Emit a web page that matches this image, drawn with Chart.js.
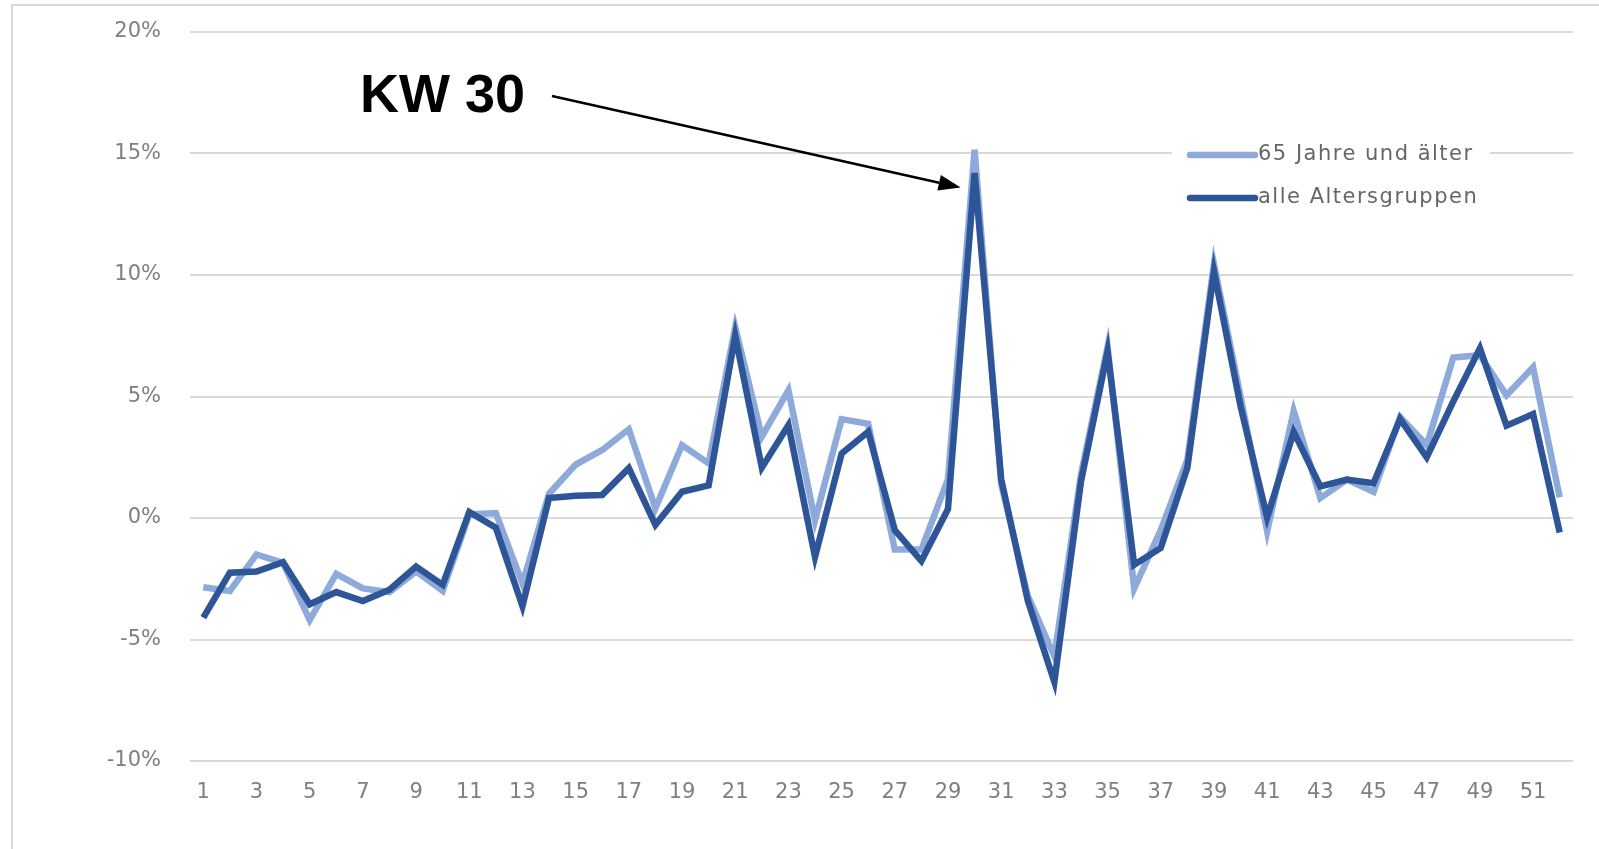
<!DOCTYPE html>
<html>
<head>
<meta charset="utf-8">
<script src="https://cdn.jsdelivr.net/npm/chart.js@4"></script>
<style>
  body { margin: 0; background: #fff; }
  .frame { position: absolute; left: 11px; top: 4px; width: 1620px; height: 900px; border: 2px solid #d9d9d9; }
  canvas { position: absolute; left: 0; top: 0; }
</style>
</head>
<body>
<div class="frame"></div>
<canvas id="myChart" width="1599" height="849"></canvas>
<script>
// Kalenderwochen 1..52
var weeks = [];
for (var w = 1; w <= 52; w++) weeks.push(w);

// Veraenderung in %
var seniors = [
  -2.85, -3.0, -1.5, -1.85, -4.2, -2.3, -2.9, -3.05, -2.2, -3.0,
  0.15, 0.2, -2.7, 1.0, 2.2, 2.8, 3.65, 0.4, 3.0, 2.25,
  7.85, 3.35, 5.25, -0.1, 4.07, 3.88, -1.3, -1.3, 1.6, 15.15,
  1.4, -3.2, -5.7, 1.8, 7.05, -2.9, -0.5, 2.4, 10.45, 5.0,
  -0.55, 4.4, 0.82, 1.58, 1.08, 4.15, 3.0, 6.6, 6.7, 5.05,
  6.2, 0.85
];
var allGroups = [
  -4.1, -2.25, -2.2, -1.82, -3.55, -3.05, -3.42, -2.95, -2.0, -2.75,
  0.25, -0.4, -3.63, 0.82, 0.92, 0.95, 2.05, -0.28, 1.08, 1.34,
  7.5, 2.07, 3.82, -1.6, 2.65, 3.55, -0.5, -1.77, 0.37, 14.2,
  1.6, -3.4, -6.75, 1.5, 6.85, -1.92, -1.23, 2.07, 10.15, 4.6,
  0.02, 3.55, 1.3, 1.58, 1.43, 4.07, 2.5, 4.8, 6.98, 3.8,
  4.28, -0.6
];
var yTicks = [-10, -5, 0, 5, 10, 15, 20];

var lightBlue = "#8eaadb";
var darkBlue = "#2e5597";
var tickFont = { family: "DejaVu Sans", size: 21 };

// legend in the plot, white box over the gridline
const legendBox = {
  id: "legendBox",
  afterDraw(chart) {
    const c = chart.ctx;
    c.save();
    c.fillStyle = "#fff";
    c.fillRect(1172, 140, 318, 76);
    const sets = chart.data.datasets;
    c.font = "21px 'DejaVu Sans'";
    c.letterSpacing = "1.5px";
    c.textBaseline = "middle";
    for (let i = 0; i < sets.length; i++) {
      const y = 155 + i * 43;
      c.strokeStyle = sets[i].borderColor;
      c.lineWidth = 6.5;
      c.lineCap = "round";
      c.beginPath();
      c.moveTo(1190, y);
      c.lineTo(1255, y);
      c.stroke();
      c.fillStyle = "#666";
      c.fillText(sets[i].label, 1258, y);
    }
    c.restore();
  }
};

// "KW 30" with arrow to the peak
const kwArrow = {
  id: "kwArrow",
  afterDraw(chart) {
    const c = chart.ctx;
    const xs = chart.scales.x, ys = chart.scales.y;
    const tipX = xs.getPixelForValue(29) - 14;
    const tipY = ys.getPixelForValue(13.6);
    const sx = 552, sy = 96;
    c.save();
    c.fillStyle = "#000";
    c.font = "bold 54px 'Liberation Sans'";
    c.textBaseline = "alphabetic";
    c.fillText("KW 30", 360, 112);
    const ang = Math.atan2(tipY - sy, tipX - sx);
    const hl = 22, hw = 8;
    const bx = tipX - hl * Math.cos(ang), by = tipY - hl * Math.sin(ang);
    c.strokeStyle = "#000";
    c.lineWidth = 2.5;
    c.beginPath();
    c.moveTo(sx, sy);
    c.lineTo(bx, by);
    c.stroke();
    c.beginPath();
    c.moveTo(tipX, tipY);
    c.lineTo(bx + hw * Math.sin(ang), by - hw * Math.cos(ang));
    c.lineTo(bx - hw * Math.sin(ang), by + hw * Math.cos(ang));
    c.closePath();
    c.fill();
    c.restore();
  }
};

const ctx = document.getElementById("myChart");
const myChart = new Chart(ctx, {
  type: "line",
  data: {
    labels: weeks,
    datasets: [
      { label: "65 Jahre und älter", data: seniors, borderColor: lightBlue, borderWidth: 6.5, order: 1 },
      { label: "alle Altersgruppen", data: allGroups, borderColor: darkBlue, borderWidth: 6.5, order: 0 }
    ]
  },
  options: {
    responsive: false,
    animation: false,
    radius: 0,
    tension: 0,
    layout: { padding: { top: 32, right: 26, left: 0, bottom: 0 } },
    plugins: { legend: { display: false }, tooltip: { enabled: false } },
    scales: {
      x: {
        offset: true,
        grid: { display: false, drawTicks: false },
        border: { display: false },
        afterFit: (s) => { s.height = 88; },
        ticks: {
          autoSkip: false,
          maxRotation: 0,
          padding: 19,
          color: "#7f7f7f",
          font: tickFont,
          callback: function (v, i) { return i % 2 === 0 ? this.getLabelForValue(v) : ""; }
        }
      },
      y: {
        min: yTicks[0],
        max: yTicks[yTicks.length - 1],
        afterFit: (s) => { s.width = 190; s.paddingTop = 12; s.paddingBottom = 12; },
        afterBuildTicks: (s) => { s.ticks = yTicks.map(v => ({ value: v })); },
        grid: { color: "#d9d9d9", lineWidth: 2, drawTicks: false },
        border: { display: false },
        ticks: {
          padding: 29,
          color: "#7f7f7f",
          font: tickFont,
          callback: (v) => v + "%"
        }
      }
    }
  },
  plugins: [legendBox, kwArrow]
});
</script>
</body>
</html>
